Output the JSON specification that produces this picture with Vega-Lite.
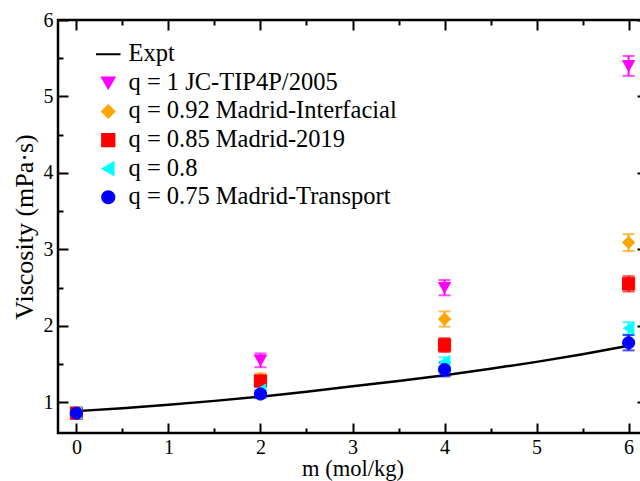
{
  "$schema": "https://vega.github.io/schema/vega-lite/v6.json",
  "width": 589,
  "height": 413,
  "autosize": {"type": "none"},
  "padding": {"left": 58, "top": 20, "right": 0, "bottom": 48},
  "background": "white",
  "config": {
    "view": {"stroke": "black", "strokeWidth": 2.5},
    "font": "Liberation Serif",
    "axis": {
      "grid": false,
      "domain": false,
      "tickColor": "black",
      "tickWidth": 2,
      "labelFont": "Liberation Serif",
      "labelFontSize": 20,
      "labelColor": "black",
      "labelFlush": false,
      "labelOverlap": false,
      "titleFont": "Liberation Serif",
      "titleFontSize": 22.5,
      "titleFontWeight": "normal",
      "titleColor": "black"
    },
    "legend": {
      "padding": 0,
      "labelFont": "Liberation Serif",
      "labelFontSize": 24.5,
      "labelColor": "black",
      "symbolSize": 150,
      "symbolStrokeWidth": 2,
      "symbolOpacity": 1,
      "rowPadding": 3.6,
      "labelOffset": 8,
      "labelLimit": 0
    }
  },
  "datasets": {
    "expt": [
      {"m": 0, "v": 0.886},
      {"m": 0.5, "v": 0.925},
      {"m": 1, "v": 0.97},
      {"m": 1.5, "v": 1.02},
      {"m": 2, "v": 1.075},
      {"m": 2.5, "v": 1.14},
      {"m": 3, "v": 1.21},
      {"m": 3.5, "v": 1.28},
      {"m": 4, "v": 1.355},
      {"m": 4.5, "v": 1.44},
      {"m": 5, "v": 1.53},
      {"m": 5.5, "v": 1.63},
      {"m": 6, "v": 1.74}
    ],
    "sim": [
      {"series": "q = 1 JC-TIP4P/2005", "m": 0, "v": 0.86, "lo": 0.83, "hi": 0.89},
      {"series": "q = 1 JC-TIP4P/2005", "m": 2, "v": 1.55, "lo": 1.46, "hi": 1.64},
      {"series": "q = 1 JC-TIP4P/2005", "m": 4, "v": 2.5, "lo": 2.4, "hi": 2.6},
      {"series": "q = 1 JC-TIP4P/2005", "m": 6, "v": 5.4, "lo": 5.27, "hi": 5.53},
      {"series": "q = 0.92 Madrid-Interfacial", "m": 0, "v": 0.86, "lo": 0.83, "hi": 0.89},
      {"series": "q = 0.92 Madrid-Interfacial", "m": 2, "v": 1.31, "lo": 1.24, "hi": 1.38},
      {"series": "q = 0.92 Madrid-Interfacial", "m": 4, "v": 2.09, "lo": 1.99, "hi": 2.19},
      {"series": "q = 0.92 Madrid-Interfacial", "m": 6, "v": 3.09, "lo": 2.98, "hi": 3.2},
      {"series": "q = 0.85 Madrid-2019", "m": 0, "v": 0.86, "lo": 0.83, "hi": 0.89},
      {"series": "q = 0.85 Madrid-2019", "m": 2, "v": 1.28, "lo": 1.22, "hi": 1.34},
      {"series": "q = 0.85 Madrid-2019", "m": 4, "v": 1.75, "lo": 1.66, "hi": 1.84},
      {"series": "q = 0.85 Madrid-2019", "m": 6, "v": 2.55, "lo": 2.45, "hi": 2.65},
      {"series": "q = 0.8", "m": 0, "v": 0.86, "lo": 0.83, "hi": 0.89},
      {"series": "q = 0.8", "m": 2, "v": 1.16, "lo": 1.12, "hi": 1.2},
      {"series": "q = 0.8", "m": 4, "v": 1.53, "lo": 1.47, "hi": 1.59},
      {"series": "q = 0.8", "m": 6, "v": 1.97, "lo": 1.89, "hi": 2.05},
      {"series": "q = 0.75 Madrid-Transport", "m": 0, "v": 0.86, "lo": 0.83, "hi": 0.89},
      {"series": "q = 0.75 Madrid-Transport", "m": 2, "v": 1.11, "lo": 1.06, "hi": 1.16},
      {"series": "q = 0.75 Madrid-Transport", "m": 4, "v": 1.43, "lo": 1.34, "hi": 1.52},
      {"series": "q = 0.75 Madrid-Transport", "m": 6, "v": 1.78, "lo": 1.68, "hi": 1.88}
    ]
  },
  "resolve": {"axis": {"x": "independent", "y": "independent"}},
  "layer": [
    {
      "data": {"name": "expt"},
      "mark": {"type": "line", "color": "black", "strokeWidth": 2.5},
      "encoding": {
        "x": {
          "field": "m", "type": "quantitative",
          "scale": {"domain": [-0.2, 6.2], "nice": false, "zero": false},
          "axis": {
            "orient": "bottom",
            "title": "m (mol/kg)",
            "values": [0, 1, 2, 3, 4, 5, 6],
            "format": "d",
            "offset": -10,
            "tickSize": 10,
            "labelPadding": 4,
            "titlePadding": 0
          }
        },
        "y": {
          "field": "v", "type": "quantitative",
          "scale": {"domain": [0.6, 6], "nice": false, "zero": false},
          "axis": {
            "orient": "left",
            "title": "Viscosity (mPa·s)",
            "titleFontSize": 26,
            "values": [1, 2, 3, 4, 5, 6],
            "format": "d",
            "offset": -10,
            "tickSize": 10,
            "labelPadding": 5,
            "titlePadding": 6
          }
        }
      }
    },
    {
      "data": {"name": "sim"},
      "mark": {"type": "rule", "strokeWidth": 2},
      "encoding": {
        "x": {
          "field": "m", "type": "quantitative",
          "axis": {
            "orient": "top", "title": null, "labels": false,
            "values": [0, 1, 2, 3, 4, 5, 6], "offset": -10, "tickSize": 10
          }
        },
        "y": {
          "field": "lo", "type": "quantitative",
          "axis": {
            "orient": "right", "title": null, "labels": false,
            "values": [1, 2, 3, 4, 5, 6], "offset": -10, "tickSize": 10
          }
        },
        "y2": {"field": "hi"},
        "color": {
          "field": "series", "type": "nominal",
          "scale": {
            "domain": ["Expt", "q = 1 JC-TIP4P/2005", "q = 0.92 Madrid-Interfacial", "q = 0.85 Madrid-2019", "q = 0.8", "q = 0.75 Madrid-Transport"],
            "range": ["black", "#ff00ff", "#ffa500", "#ff0000", "#00ffff", "#0000ff"]
          },
          "legend": {"title": null, "orient": "none", "legendX": 38, "legendY": 22}
        }
      }
    },
    {
      "data": {"name": "sim"},
      "mark": {"type": "tick", "orient": "horizontal", "size": 12, "thickness": 2},
      "encoding": {
        "x": {
          "field": "m", "type": "quantitative",
          "axis": {
            "orient": "bottom", "title": null, "labels": false,
            "values": [0.5, 1.5, 2.5, 3.5, 4.5, 5.5], "offset": -5, "tickSize": 5
          }
        },
        "y": {
          "field": "lo", "type": "quantitative",
          "axis": {
            "orient": "left", "title": null, "labels": false,
            "values": [1.5, 2.5, 3.5, 4.5, 5.5], "offset": -5, "tickSize": 5
          }
        },
        "color": {"field": "series", "type": "nominal", "legend": {"title": null, "orient": "none", "legendX": 38, "legendY": 22}}
      }
    },
    {
      "data": {"name": "sim"},
      "mark": {"type": "tick", "orient": "horizontal", "size": 12, "thickness": 2},
      "encoding": {
        "x": {
          "field": "m", "type": "quantitative",
          "axis": {
            "orient": "top", "title": null, "labels": false,
            "values": [0.5, 1.5, 2.5, 3.5, 4.5, 5.5], "offset": -5, "tickSize": 5
          }
        },
        "y": {
          "field": "hi", "type": "quantitative",
          "axis": {
            "orient": "right", "title": null, "labels": false,
            "values": [1.5, 2.5, 3.5, 4.5, 5.5], "offset": -5, "tickSize": 5
          }
        },
        "color": {"field": "series", "type": "nominal", "legend": {"title": null, "orient": "none", "legendX": 38, "legendY": 22}}
      }
    },
    {
      "data": {"name": "sim"},
      "mark": {"type": "point", "filled": true, "size": 150, "strokeWidth": 1, "opacity": 1},
      "encoding": {
        "x": {"field": "m", "type": "quantitative", "axis": null},
        "y": {"field": "v", "type": "quantitative", "axis": null},
        "color": {
          "field": "series", "type": "nominal",
          "legend": {"title": null, "orient": "none", "legendX": 38, "legendY": 22}
        },
        "stroke": {
          "field": "series", "type": "nominal",
          "legend": {"title": null, "orient": "none", "legendX": 38, "legendY": 22},
          "scale": {
            "domain": ["Expt", "q = 1 JC-TIP4P/2005", "q = 0.92 Madrid-Interfacial", "q = 0.85 Madrid-2019", "q = 0.8", "q = 0.75 Madrid-Transport"],
            "range": ["black", "#ff00ff", "#ffa500", "#ff0000", "#00ffff", "#0000ff"]
          }
        },
        "shape": {
          "field": "series", "type": "nominal",
          "legend": {"title": null, "orient": "none", "legendX": 38, "legendY": 22},
          "scale": {
            "domain": ["Expt", "q = 1 JC-TIP4P/2005", "q = 0.92 Madrid-Interfacial", "q = 0.85 Madrid-2019", "q = 0.8", "q = 0.75 Madrid-Transport"],
            "range": ["M-2,0H2", "triangle-down", "diamond", "square", "triangle-left", "circle"]
          }
        }
      }
    }
  ]
}
